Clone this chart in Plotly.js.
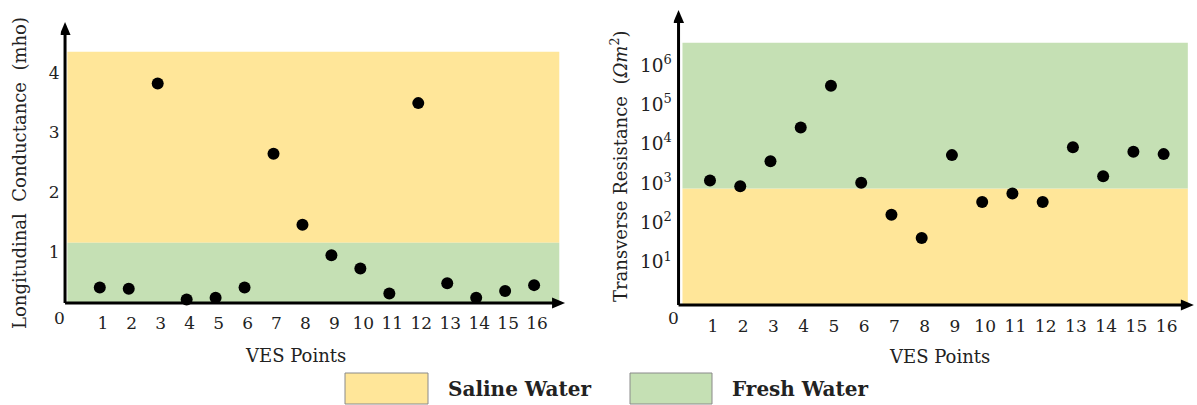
<!DOCTYPE html>
<html><head><meta charset="utf-8">
<script src="https://cdn.plot.ly/plotly-3.0.1.min.js"></script>
<style>html,body{margin:0;padding:0;background:#fff}#chart{width:1197px;height:405px}</style>
</head><body><div id="chart"></div>
<script>
const vesPoints = [1,2,3,4,5,6,7,8,9,10,11,12,13,14,15,16];
const conductance = [0.40,0.38,3.82,0.20,0.23,0.40,2.64,1.45,0.94,0.72,0.30,3.49,0.47,0.23,0.34,0.44];
const resistance = [1170,835,3600,26000,297000,1020,156,40,5140,330,547,330,8100,1500,6300,5450];
const condTicks = [1,2,3,4];
const resTicks = [10,100,1000,10000,100000,1000000];
const resTickText = ['10<sup>1</sup>','10<sup>2</sup>','10<sup>3</sup>','10<sup>4</sup>','10<sup>5</sup>','10<sup>6</sup>'];
const condZones = {salineFrom:1.15, salineTo:4.35, freshFrom:0.14, freshTo:1.15};
const resZones = {salineFrom:0.8, salineTo:725, freshFrom:725, freshTo:3.7e6};
const legendLabels = ['Saline Water','Fresh Water'];

const SALINE = '#FFE699', FRESH = '#C5E0B4';
const FONT = 'DejaVu Serif, Liberation Serif, serif';
const W = 1197, H = 405;
const px = v => v / W, py = v => (H - v) / H;

const traces = [
  {x: vesPoints, y: conductance, xaxis:'x', yaxis:'y', mode:'markers', type:'scatter',
   marker:{color:'#000', size:12}, showlegend:false, hoverinfo:'x+y'},
  {x: vesPoints, y: resistance, xaxis:'x2', yaxis:'y2', mode:'markers', type:'scatter',
   marker:{color:'#000', size:12}, showlegend:false, hoverinfo:'x+y'}
];

const tickFont = {family: FONT, size: 17, color: '#222'};
const axBase = {showgrid:false, zeroline:false, showline:false, ticks:'', fixedrange:true, tickfont: tickFont};
const lineStyle = {color:'#000', width:3};
const upHead = 'M0,0 L-5.5,-13 L5.5,-13 Z';
const rightHead = 'M0,0 L-13,5.5 L-13,-5.5 Z';

// left axes: origin at x=-0.2, y=0.14 ; right axes: origin at x=-0.04, y=10^-0.1
const layout = {
  width: W, height: H,
  margin: {l:0, r:0, t:0, b:0},
  paper_bgcolor:'#fff', plot_bgcolor:'rgba(0,0,0,0)',
  showlegend:false,
  xaxis: Object.assign({}, axBase, {domain:[px(60.7), px(570)], range:[-0.35, 17.24], anchor:'y',
      tickvals: vesPoints, ticklabelstandoff: 2, ticklabelshift: 3}),
  yaxis: Object.assign({}, axBase, {domain:[py(309), py(16)], range:[0.04, 4.95], anchor:'x',
      tickvals: condTicks, ticklabelstandoff: 0}),
  xaxis2: Object.assign({}, axBase, {domain:[px(673.7), px(1196)], range:[-0.2, 17.07], anchor:'y2',
      tickvals: vesPoints, ticklabelstandoff: 3, ticklabelshift: 3}),
  yaxis2: Object.assign({}, axBase, {domain:[py(311), py(6)], type:'log', range:[-0.25, 7.5], anchor:'x2',
      tickvals: resTicks, ticktext: resTickText, ticklabelstandoff: 1, tickfont:{family:FONT, size:18.5, color:'#222'}}),
  shapes: [
    {type:'rect', xref:'x', yref:'y', x0:-0.12, x1:16.87, y0:condZones.salineFrom, y1:condZones.salineTo, fillcolor:SALINE, line:{width:0}, layer:'below'},
    {type:'rect', xref:'x', yref:'y', x0:-0.12, x1:16.87, y0:condZones.freshFrom, y1:condZones.freshTo, fillcolor:FRESH, line:{width:0}, layer:'below'},
    {type:'rect', xref:'x2', yref:'y2', x0:0.09, x1:16.8, y0:resZones.salineFrom, y1:resZones.salineTo, fillcolor:SALINE, line:{width:0}, layer:'below'},
    {type:'rect', xref:'x2', yref:'y2', x0:0.09, x1:16.8, y0:resZones.freshFrom, y1:resZones.freshTo, fillcolor:FRESH, line:{width:0}, layer:'below'},
    // axis lines
    {type:'line', xref:'x', yref:'y', x0:-0.2, x1:16.9, y0:0.14, y1:0.14, line:lineStyle},
    {type:'line', xref:'x', yref:'y', x0:-0.2, x1:-0.2, y0:0.14, y1:4.65, line:lineStyle},
    {type:'line', xref:'x2', yref:'y2', x0:-0.04, x1:16.6, y0:0.794, y1:0.794, line:lineStyle},
    {type:'line', xref:'x2', yref:'y2', x0:-0.04, x1:-0.04, y0:0.794, y1:1.2e7, line:lineStyle},
    // arrow heads
    {type:'path', xref:'x', yref:'y', xsizemode:'pixel', ysizemode:'pixel', xanchor:-0.2, yanchor:4.85, path:upHead, fillcolor:'#000', line:{width:0}},
    {type:'path', xref:'x', yref:'y', xsizemode:'pixel', ysizemode:'pixel', xanchor:17.07, yanchor:0.14, path:rightHead, fillcolor:'#000', line:{width:0}},
    {type:'path', xref:'x2', yref:'y2', xsizemode:'pixel', ysizemode:'pixel', xanchor:-0.04, yanchor:2.5e7, path:upHead, fillcolor:'#000', line:{width:0}},
    {type:'path', xref:'x2', yref:'y2', xsizemode:'pixel', ysizemode:'pixel', xanchor:17.0, yanchor:0.794, path:rightHead, fillcolor:'#000', line:{width:0}},
    // legend swatches
    {type:'rect', xref:'paper', yref:'paper', x0:px(345), x1:px(428), y0:py(404), y1:py(373), fillcolor:SALINE, line:{width:1, color:'#8a8a8a'}},
    {type:'rect', xref:'paper', yref:'paper', x0:px(630), x1:px(712), y0:py(404), y1:py(373), fillcolor:FRESH, line:{width:1, color:'#8a8a8a'}}
  ],
  annotations: [
    {xref:'paper', yref:'paper', x:px(59), y:py(318), xanchor:'center', yanchor:'middle', text:'0', showarrow:false, font:tickFont},
    {xref:'paper', yref:'paper', x:px(673), y:py(318), xanchor:'center', yanchor:'middle', text:'0', showarrow:false, font:tickFont},
    {xref:'paper', yref:'paper', x:px(295), y:py(355), xanchor:'center', yanchor:'middle', text:'VES Points', showarrow:false, font:{family:FONT, size:18, color:'#222'}},
    {xref:'paper', yref:'paper', x:px(939), y:py(356), xanchor:'center', yanchor:'middle', text:'VES Points', showarrow:false, font:{family:FONT, size:18, color:'#222'}},
    {xref:'paper', yref:'paper', x:px(19), y:py(173), xanchor:'center', yanchor:'middle', text:'Longitudinal  Conductance  (mho)', textangle:-90, showarrow:false, font:{family:FONT, size:18, color:'#222'}},
    {xref:'paper', yref:'paper', x:px(619), y:py(167), xanchor:'center', yanchor:'middle', text:'Transverse Resistance  (<i>Ωm</i><sup>2</sup>)', textangle:-90, showarrow:false, font:{family:FONT, size:18, color:'#222'}},
    {xref:'paper', yref:'paper', x:px(446), y:py(389), xanchor:'left', yanchor:'middle', text:'<b>'+legendLabels[0]+'</b>', showarrow:false, font:{family:FONT, size:20, color:'#222'}},
    {xref:'paper', yref:'paper', x:px(730), y:py(389), xanchor:'left', yanchor:'middle', text:'<b>'+legendLabels[1]+'</b>', showarrow:false, font:{family:FONT, size:20, color:'#222'}}
  ]
};

Plotly.newPlot('chart', traces, layout, {staticPlot:true, displayModeBar:false});
</script>
</body></html>
